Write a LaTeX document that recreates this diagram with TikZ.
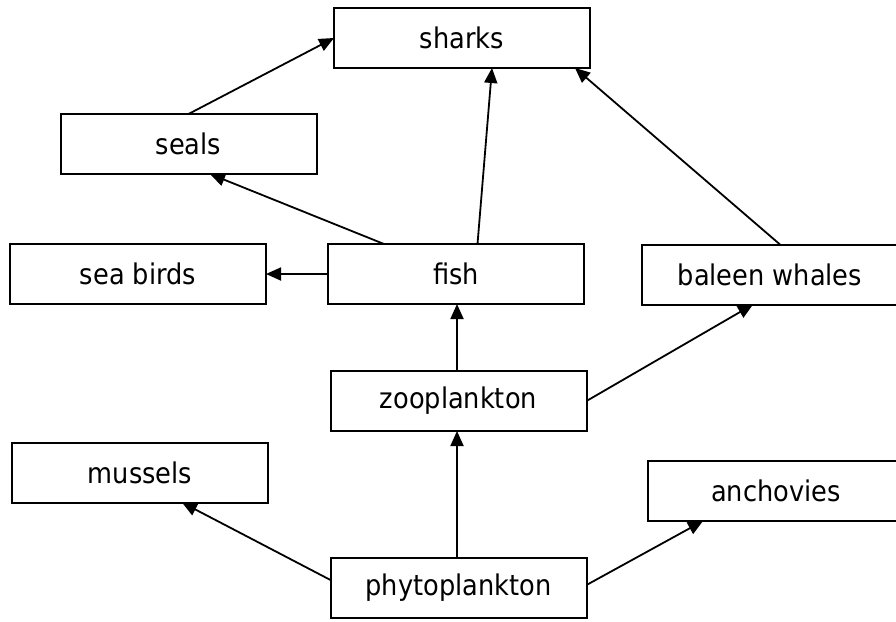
\documentclass[tikz,border=0pt]{standalone}
\usepackage{fontspec}
\setmainfont{DejaVu Sans Condensed}
\usetikzlibrary{arrows.meta}
\tikzset{
  box/.style = {draw, line width=2pt, minimum width=#1, minimum height=60pt,
                inner sep=0pt, outer sep=0pt, font=\fontsize{28.5}{32}\selectfont},
  box/.default = 256pt,
  eats/.style = {-{Triangle[length=15pt,width=13pt]}, line width=1.8pt}
}

\begin{document}
\begin{tikzpicture}[x=1pt, y=-1pt]
	\useasboundingbox (0,0) rectangle (896,621);

	% Top
	\node[box] (sharks) at (462,38) {sharks};
	\node[box] (seals) at (188.5,144) {seals};

	% Middle row
	\node[box] (birds) at (138,274) {sea birds};
	\node[box] (fish) at (456,274) {fish};
	\node[box] (whales) at (770,274.5) {baleen whales};
	\node[box] (zoo) at (458.5,401) {zooplankton};

	% Bottom
	\node[box] (mussels) at (140,472.5) {mussels};
	\node[box] (anchovies) at (776,491) {anchovies};
	\node[box] (phyto) at (458.5,588) {phytoplankton};

	% Arrows
	\draw[eats] (seals.north) -- (sharks.west);
	\draw[eats] ([xshift=-72pt]fish.north) -- ([xshift=21.5pt]seals.south);
	\draw[eats] ([xshift=21.5pt]fish.north) -- ([xshift=30pt]sharks.south);
	\draw[eats] (fish.west) -- (birds.east);
	\draw[eats] ([xshift=10pt]whales.north) -- ([xshift=113pt]sharks.south);
	\draw[eats] ([xshift=-1.5pt]zoo.north) -- ([xshift=-1.5pt]zoo.north |- fish.south);
	\draw[eats] (zoo.east) -- ([xshift=-17pt]whales.south);
	\draw[eats] ([xshift=-1.5pt]phyto.north) -- ([xshift=-1.5pt]zoo.south);
	\draw[eats] ([yshift=8pt]phyto.west) -- ([xshift=42pt]mussels.south);
	\draw[eats] ([yshift=3pt]phyto.east) -- ([xshift=-73pt]anchovies.south);

\end{tikzpicture}
\end{document}
